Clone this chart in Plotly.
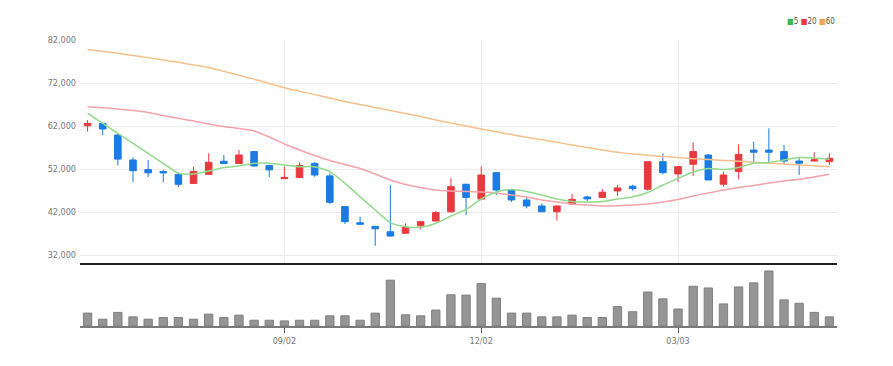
import plotly.graph_objects as go
import pandas as pd

# Weekly candles (Mon dates)
dates = [d.strftime("%Y-%m-%d") for d in pd.date_range("2024-06-03", periods=50, freq="7D")]

opens = [62050, 62600, 59900, 54100, 51850, 51400, 50700, 48650, 50750, 53800,
         53300, 56050, 52800, 49750, 50000, 53300, 50400, 43250, 39500, 38650,
         37400, 37050, 38800, 39900, 42050, 48450, 45000, 51150, 47100, 44800,
         43400, 42050, 43850, 45500, 45400, 46900, 48000, 47300, 53700, 50850,
         53100, 55250, 48450, 51400, 56400, 56400, 56050, 53850, 53850, 53700]
highs = [63400, 62700, 60300, 54700, 54100, 51800, 51250, 52550, 55650, 55250,
         56400, 56100, 53000, 52550, 53550, 53600, 51000, 43300, 40900, 38800,
         48300, 39350, 39900, 42250, 49850, 48500, 52550, 51200, 47200, 45550,
         44000, 43500, 46200, 45800, 47300, 48300, 48350, 53800, 55650, 52700,
         58150, 55500, 51400, 57750, 58350, 61450, 57600, 54500, 55900, 55650]
lows = [60700, 59900, 52800, 49000, 50100, 48900, 47750, 48600, 50700, 53200,
        53150, 52550, 50100, 49700, 49950, 50200, 43850, 39200, 39100, 34150,
        36300, 37000, 37950, 39800, 41900, 41300, 44900, 45950, 44350, 42850,
        42000, 40000, 43800, 44550, 45300, 45800, 46950, 46950, 50750, 49050,
        50400, 49400, 47900, 49600, 53450, 53700, 53100, 50600, 53800, 52950]
closes = [62600, 61300, 54300, 51600, 51100, 51100, 48450, 51450, 53550, 53250,
          55250, 52700, 51800, 50050, 52800, 50600, 44250, 39750, 39150, 38100,
          36400, 38450, 39750, 41850, 47900, 45400, 50600, 47100, 44800, 43400,
          42050, 43400, 44950, 45050, 46600, 47600, 47450, 53700, 51150, 52550,
          56050, 49450, 50600, 55400, 55900, 55900, 53850, 53350, 54150, 54500]

ma5 = [64950, 62630, 60300, 57980, 55650, 53330, 51000, 50840, 51530, 52350,
       52700, 53330, 53330, 52930, 52530, 52530, 51370, 48670, 45560, 42470,
       39510, 38580, 38440, 39370, 41070, 42580, 45020, 46650, 47230, 46770,
       45950, 45020, 44440, 44330, 44440, 45020, 45490, 46530, 48280, 49790,
       51300, 52120, 51880, 52350, 53330, 53510, 54090, 54670, 54560, 54260]
ma20 = [66490, 66260, 65950, 65600, 65140, 64440, 63790, 63160, 62470, 61880,
        61420, 60840, 59440, 57810, 56420, 55140, 53980, 53050, 52120, 50840,
        49440, 48400, 47700, 47120, 46880, 46770, 46650, 46420, 45950, 45490,
        44790, 44330, 43860, 43630, 43400, 43440, 43630, 43860, 44330, 44910,
        45720, 46420, 47120, 47700, 48160, 48740, 49210, 49600, 50140, 50770]
ma60 = [79800, 79350, 78900, 78400, 77900, 77350, 76800, 76200, 75600, 74700,
        73800, 72900, 71900, 70900, 70100, 69300, 68500, 67700, 67000, 66300,
        65600, 64900, 64200, 63400, 62700, 62000, 61300, 60650, 60000, 59400,
        58800, 58200, 57600, 57000, 56400, 55900, 55500, 55200, 54900, 54650,
        54400, 54200, 54000, 53800, 53550, 53350, 53150, 52950, 52750, 52550]

volumes = [38, 20, 40, 27, 20, 25, 25, 20, 35, 25,
           32, 17, 17, 15, 17, 17, 30, 30, 17, 38,
           135, 33, 30, 47, 92, 91, 125, 82, 38, 38,
           27, 27, 32, 25, 25, 57, 42, 100, 80, 50,
           117, 112, 65, 115, 127, 162, 77, 67, 40, 27]
volumes = [v * 10000 for v in volumes]

tick_vals = ["2024-09-02", "2024-12-02", "2025-03-03"]
tick_text = ["09/02", "12/02", "03/03"]
price_ticks = [32000, 42000, 52000, 62000, 72000, 82000]

RED = "#e8393f"
BLUE = "#1b7be3"
FONT = "Liberation Sans Narrow, DejaVu Sans Condensed, Arial Narrow, sans-serif"

fig = go.Figure()

fig.add_trace(go.Scatter(x=dates, y=ma60, mode="lines", line=dict(color="#f6c08e", width=1.5, shape="spline", smoothing=0.6),
                         xaxis="x", yaxis="y", hoverinfo="skip", showlegend=False))
fig.add_trace(go.Scatter(x=dates, y=ma20, mode="lines", line=dict(color="#f4a3ab", width=1.5, shape="spline", smoothing=0.6),
                         xaxis="x", yaxis="y", hoverinfo="skip", showlegend=False))
fig.add_trace(go.Scatter(x=dates, y=ma5, mode="lines", line=dict(color="#93d98c", width=1.5, shape="spline", smoothing=0.6),
                         xaxis="x", yaxis="y", hoverinfo="skip", showlegend=False))

fig.add_trace(go.Candlestick(
    x=dates, open=opens, high=highs, low=lows, close=closes,
    increasing=dict(line=dict(color=RED, width=1), fillcolor=RED),
    decreasing=dict(line=dict(color=BLUE, width=1), fillcolor=BLUE),
    whiskerwidth=0, xaxis="x", yaxis="y", showlegend=False))

fig.add_trace(go.Bar(x=dates, y=volumes, marker=dict(color="#959595", line=dict(color="#808080", width=1)),
                     xaxis="x2", yaxis="y2", showlegend=False))

fig.update_layout(
    width=893, height=366,
    margin=dict(l=80, r=56, t=40, b=40),
    paper_bgcolor="white", plot_bgcolor="white",
    boxgap=0.38, bargap=0.45,
    font=dict(family=FONT, size=9, color="#666"),
    xaxis=dict(type="category", domain=[0, 1], anchor="y", range=[-0.5, 49.5],
               rangeslider=dict(visible=False),
               tickmode="array", tickvals=tick_vals, ticktext=tick_text, showticklabels=False,
               showgrid=True, gridcolor="#ececec", gridwidth=1,
               showline=True, linecolor="#222", linewidth=2, zeroline=False, ticks=""),
    yaxis=dict(domain=[0.2203, 1], range=[30140, 82000], tickmode="array", tickvals=price_ticks,
               ticktext=[f"{v:,}" for v in price_ticks], showgrid=True, gridcolor="#ececec", gridwidth=1,
               zeroline=False, showline=False, ticks="", ticklabelstandoff=3,
               tickfont=dict(family=FONT, size=9, color="#777")),
    xaxis2=dict(type="category", domain=[0, 1], anchor="y2", range=[-0.5, 49.5],
                tickmode="array", tickvals=tick_vals, ticktext=tick_text,
                showgrid=False, showline=True, linecolor="#7a7a7a", linewidth=2,
                ticks="outside", ticklen=5, tickcolor="#555", tickwidth=1,
                tickfont=dict(family=FONT, size=9, color="#777"), zeroline=False),
    yaxis2=dict(domain=[0, 0.2028], range=[0, 1708000], showticklabels=False, showgrid=False,
                zeroline=False, showline=False, ticks=""),
    annotations=[dict(
        xref="paper", yref="paper", x=1.0, y=1.063, xanchor="right", yanchor="middle", showarrow=False,
        text='<span style="color:#3cb64a">■</span>5 <span style="color:#e8393f">■</span>20 '
             '<span style="color:#f0a450">■</span>60',
        font=dict(family=FONT, size=8, color="#555"))],
)

fig.write_html("out.html", config={"displayModeBar": False},
               post_script="document.body.style.margin='0';document.body.style.overflow='hidden';")
